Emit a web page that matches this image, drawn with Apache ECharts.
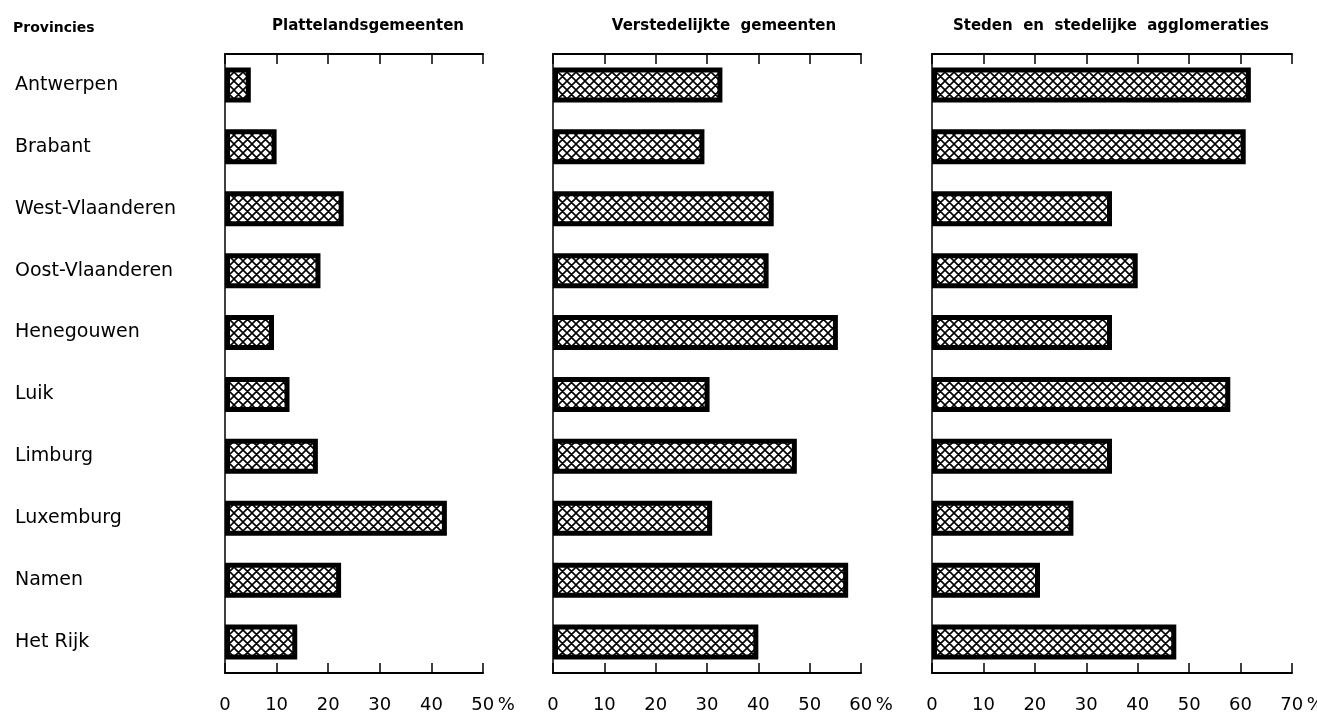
<!DOCTYPE html>
<html>
<head>
<meta charset="utf-8">
<script src="https://cdn.jsdelivr.net/npm/echarts@6/dist/echarts.min.js"></script>
<style>
  html, body { margin: 0; padding: 0; background: #fff; }
  #chart { width: 1317px; height: 718px; }
</style>
</head>
<body>
<div id="chart"></div>
<script>
const provinces = ['Antwerpen', 'Brabant', 'West-Vlaanderen', 'Oost-Vlaanderen', 'Henegouwen', 'Luik', 'Limburg', 'Luxemburg', 'Namen', 'Het Rijk'];
const platteland = [5, 10, 23, 18.5, 9.5, 12.5, 18, 43, 22.5, 14];
const verstedelijkt = [33, 29.5, 43, 42, 55.5, 30.5, 47.5, 31, 57.5, 40];
const steden = [62, 61, 35, 40, 35, 58, 35, 27.5, 21, 47.5];
const panelTitles = ['Plattelandsgemeenten', 'Verstedelijkte  gemeenten', 'Steden  en  stedelijke  agglomeraties'];
const rowHeader = 'Provincies';
const axisMax = [50, 60, 70];
const tickStep = 10;
const unitSign = '\u2009%';

const seriesData = [platteland, verstedelijkt, steden];

// layout (pixels)
const gridLeft = [225, 553, 932];
const gridWidth = [258, 308, 360];
const gridTop = 54;
const gridHeight = 619;
const titleX = [368, 724, 1111];

function makeHatch() {
  const s = 9;
  const c = document.createElement('canvas');
  c.width = s; c.height = s;
  const g = c.getContext('2d');
  g.fillStyle = '#fff';
  g.fillRect(0, 0, s, s);
  g.strokeStyle = '#000';
  g.lineWidth = 1.6;
  g.beginPath();
  for (let k = -1; k <= 1; k++) {
    g.moveTo(k * s, 0); g.lineTo(k * s + s, s);
  }
  for (let k = 0; k <= 2; k++) {
    g.moveTo(k * s, 0); g.lineTo(k * s - s, s);
  }
  g.stroke();
  return c;
}
const hatch = makeHatch();

const FONT = 'DejaVu Sans';

const grids = [], xAxes = [], yAxes = [], series = [];
for (let i = 0; i < 3; i++) {
  grids.push({ left: gridLeft[i], width: gridWidth[i], top: gridTop, height: gridHeight, outerBoundsMode: 'none', containLabel: false });
  const max = axisMax[i];
  const base = {
    gridIndex: i, type: 'value', min: 0, max: max, interval: tickStep,
    axisLine: { show: true, lineStyle: { color: '#000', width: 2 } },
    axisTick: { show: true, inside: true, length: 10, lineStyle: { color: '#000', width: 1.5 } },
    splitLine: { show: false }
  };
  xAxes.push(Object.assign({}, base, {
    position: 'bottom',
    axisLabel: {
      show: true, margin: 23, color: '#000', fontFamily: FONT, fontSize: 18,
      formatter: function (v) { return v === max ? '{sp|}' + v + unitSign : String(v); },
      rich: { sp: { width: 20 } }
    }
  }));
  xAxes.push(Object.assign({}, base, {
    position: 'top',
    axisLabel: { show: false }
  }));
  yAxes.push({
    gridIndex: i, type: 'category', data: provinces, inverse: true,
    axisLine: { show: true, lineStyle: { color: '#000', width: 1.5 } },
    axisTick: { show: false },
    axisLabel: i === 0 ? { show: true, align: 'left', margin: 210, color: '#000', fontFamily: FONT, fontSize: 19 } : { show: false }
  });
  series.push({
    type: 'bar', xAxisIndex: i * 2, yAxisIndex: i,
    data: seriesData[i], barWidth: 35,
    itemStyle: { color: { image: hatch, repeat: 'repeat' }, borderColor: '#000', borderWidth: 5 },
    silent: true
  });
}

const graphics = [{
  type: 'text', x: 13, y: 28,
  style: { text: rowHeader, fontFamily: FONT, fontWeight: 'bold', fontSize: 14, fill: '#000', textAlign: 'left', textVerticalAlign: 'middle' }
}];
for (let i = 0; i < 3; i++) {
  graphics.push({
    type: 'text', x: titleX[i], y: 26,
    style: { text: panelTitles[i], fontFamily: FONT, fontWeight: 'bold', fontSize: 15, fill: '#000', textAlign: 'center', textVerticalAlign: 'middle' }
  });
}

const chart = echarts.init(document.getElementById('chart'), null, { renderer: 'canvas' });
chart.setOption({
  backgroundColor: '#fff',
  animation: false,
  grid: grids,
  xAxis: xAxes,
  yAxis: yAxes,
  series: series,
  graphic: graphics
});
</script>
</body>
</html>
